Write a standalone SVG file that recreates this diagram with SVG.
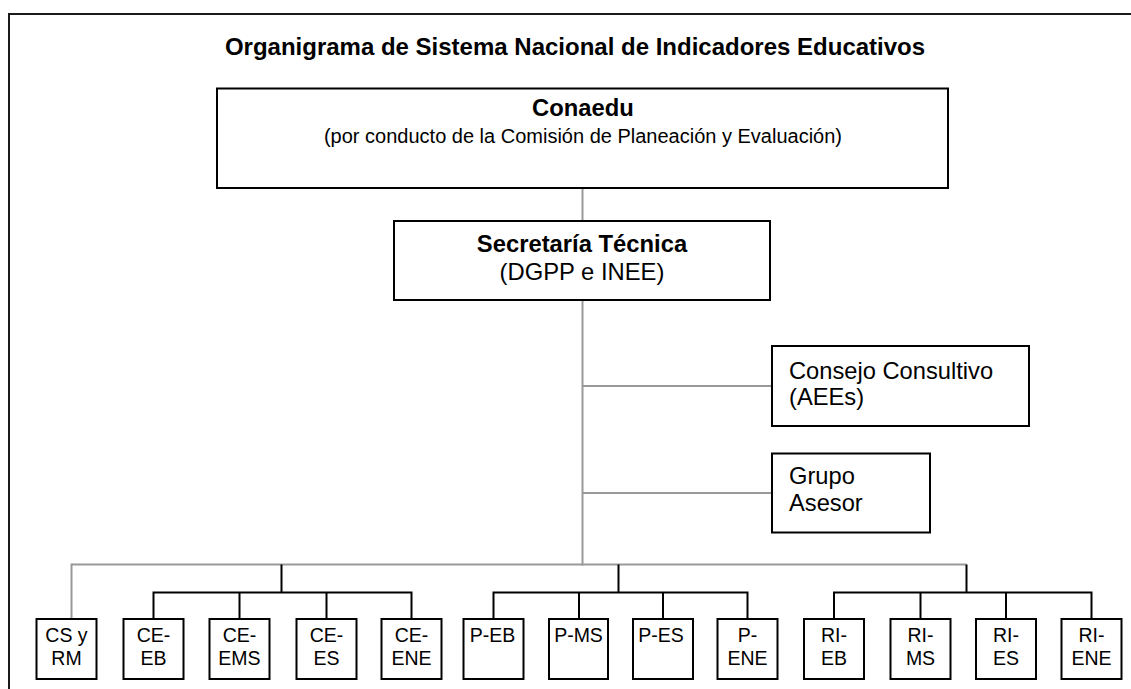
<svg xmlns="http://www.w3.org/2000/svg" width="1131" height="689" viewBox="0 0 1131 689">
  <style>
    .box { fill: #ffffff; stroke: #000000; stroke-width: 2; }
    .gray { fill: none; stroke: #999999; stroke-width: 2; }
    .blk { fill: none; stroke: #000000; stroke-width: 2; }
    .frame { fill: none; stroke: #1a1a1a; stroke-width: 2; }
    text { font-family: "Liberation Sans", Arial, sans-serif; fill: #000000; }
    .title { font-size: 24px; font-weight: bold; text-anchor: middle; }
    .hb { font-size: 23.8px; font-weight: bold; text-anchor: middle; }
    .hr { font-size: 23.8px; text-anchor: middle; }
    .sub { font-size: 20px; text-anchor: middle; }
    .lt { font-size: 23.7px; }
    .sm { font-size: 19.5px; text-anchor: middle; }
  </style>
  <rect width="1131" height="689" fill="#ffffff"/>
  <path class="frame" d="M9,700 V14 H1140"/>
  <text class="title" x="575" y="55">Organigrama de Sistema Nacional de Indicadores Educativos</text>

  <g id="connectors">
    <line class="gray" x1="582.5" y1="188" x2="582.5" y2="221"/>
    <line class="gray" x1="582.5" y1="300" x2="582.5" y2="565.5"/>
    <line class="gray" x1="582.5" y1="386" x2="772" y2="386"/>
    <line class="gray" x1="582.5" y1="493" x2="772" y2="493"/>
    <line class="gray" x1="71.5" y1="564.5" x2="966.5" y2="564.5"/>
    <line class="gray" x1="71.5" y1="563.5" x2="71.5" y2="619"/>
    <line class="blk" x1="281.5" y1="564.5" x2="281.5" y2="592.5"/>
    <line class="blk" x1="618.5" y1="564.5" x2="618.5" y2="592.5"/>
    <line class="blk" x1="966.5" y1="564.5" x2="966.5" y2="592.5"/>
    <path class="blk" d="M153.5,619 V592.5 H411.5 V619 M239.5,592.5 V619 M326.5,592.5 V619"/>
    <path class="blk" d="M493.5,619 V592.5 H747.5 V619 M579,592.5 V619 M663,592.5 V619"/>
    <path class="blk" d="M834,619 V592.5 H1091.5 V619 M920.5,592.5 V619 M1006,592.5 V619"/>
  </g>

  <g id="conaedu">
    <rect class="box" x="217" y="88.5" width="731" height="99.5"/>
    <text class="hb" x="583" y="116">Conaedu</text>
    <text class="sub" x="583" y="143">(por conducto de la Comisión de Planeación y Evaluación)</text>
  </g>
  <g id="secretaria">
    <rect class="box" x="394" y="221" width="376" height="79"/>
    <text class="hb" x="582" y="252">Secretaría Técnica</text>
    <text class="hr" x="582" y="280">(DGPP e INEE)</text>
  </g>
  <g id="consejo">
    <rect class="box" x="772" y="346" width="257" height="80"/>
    <text class="lt" x="789" y="379">Consejo Consultivo</text>
    <text class="lt" x="789" y="405">(AEEs)</text>
  </g>
  <g id="grupo">
    <rect class="box" x="772" y="453.5" width="158" height="79"/>
    <text class="lt" x="789" y="484">Grupo</text>
    <text class="lt" x="789" y="510.5">Asesor</text>
  </g>

  <g id="cs-rm">
    <rect class="box" x="36.5" y="619" width="60" height="60"/>
    <text class="sm" x="66.5" y="642">CS y</text>
    <text class="sm" x="66.5" y="665">RM</text>
  </g>
  <g id="ce-eb">
    <rect class="box" x="123.5" y="619" width="60" height="60"/>
    <text class="sm" x="153.5" y="642">CE-</text>
    <text class="sm" x="153.5" y="665">EB</text>
  </g>
  <g id="ce-ems">
    <rect class="box" x="209.5" y="619" width="60" height="60"/>
    <text class="sm" x="239.5" y="642">CE-</text>
    <text class="sm" x="239.5" y="665">EMS</text>
  </g>
  <g id="ce-es">
    <rect class="box" x="296.5" y="619" width="60" height="60"/>
    <text class="sm" x="326.5" y="642">CE-</text>
    <text class="sm" x="326.5" y="665">ES</text>
  </g>
  <g id="ce-ene">
    <rect class="box" x="381.5" y="619" width="60" height="60"/>
    <text class="sm" x="411.5" y="642">CE-</text>
    <text class="sm" x="411.5" y="665">ENE</text>
  </g>
  <g id="p-eb">
    <rect class="box" x="463.5" y="619" width="60" height="60"/>
    <text class="sm" x="492.5" y="642">P-EB</text>
  </g>
  <g id="p-ms">
    <rect class="box" x="549" y="619" width="59" height="60"/>
    <text class="sm" x="578.5" y="642">P-MS</text>
  </g>
  <g id="p-es">
    <rect class="box" x="633" y="619" width="60" height="60"/>
    <text class="sm" x="661" y="642">P-ES</text>
  </g>
  <g id="p-ene">
    <rect class="box" x="717.5" y="619" width="60" height="60"/>
    <text class="sm" x="747.5" y="642">P-</text>
    <text class="sm" x="747.5" y="665">ENE</text>
  </g>
  <g id="ri-eb">
    <rect class="box" x="804" y="619" width="60" height="60"/>
    <text class="sm" x="834" y="642">RI-</text>
    <text class="sm" x="834" y="665">EB</text>
  </g>
  <g id="ri-ms">
    <rect class="box" x="890.5" y="619" width="60" height="60"/>
    <text class="sm" x="920.5" y="642">RI-</text>
    <text class="sm" x="920.5" y="665">MS</text>
  </g>
  <g id="ri-es">
    <rect class="box" x="976" y="619" width="60" height="60"/>
    <text class="sm" x="1006" y="642">RI-</text>
    <text class="sm" x="1006" y="665">ES</text>
  </g>
  <g id="ri-ene">
    <rect class="box" x="1061.5" y="619" width="60" height="60"/>
    <text class="sm" x="1091.5" y="642">RI-</text>
    <text class="sm" x="1091.5" y="665">ENE</text>
  </g>
</svg>
